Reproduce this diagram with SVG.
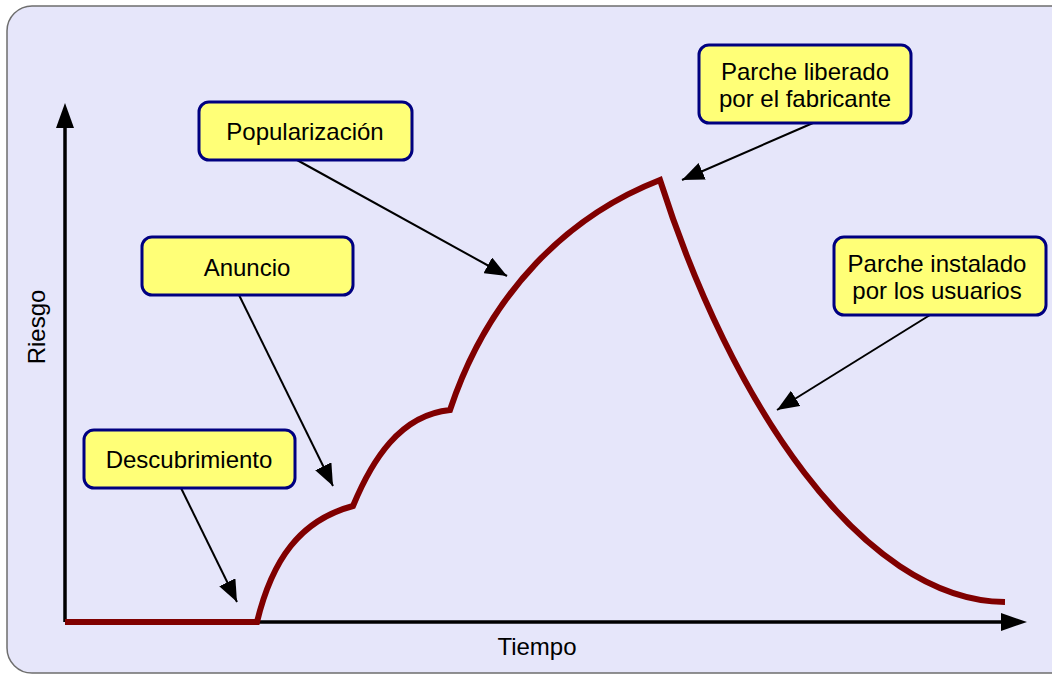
<svg xmlns="http://www.w3.org/2000/svg" width="1052" height="675" viewBox="0 0 1052 675">
<defs>
<style>
.box{fill:#ffff77;stroke:#000080;stroke-width:3}
.t{font-family:"Liberation Sans",Arial,sans-serif;font-size:24px;fill:#000;text-anchor:middle}
.ax{stroke:#000;stroke-width:3.5;fill:none}
.ptr{stroke:#000;stroke-width:2;fill:none}
</style>
<marker id="sm" viewBox="0 0 10 10" refX="10" refY="5" markerWidth="22" markerHeight="18" orient="auto" markerUnits="userSpaceOnUse" preserveAspectRatio="none">
<path d="M0,0 L10,5 L0,10 z" fill="#000"/>
</marker>
</defs>
<rect x="7" y="6" width="1070" height="667" rx="25" ry="25" fill="#e6e6fa" stroke="#6e6e6e" stroke-width="1.5"/>
<g id="axes">
<line class="ax" x1="65" y1="622" x2="65" y2="126"/>
<path d="M65,103 L56,128 L74,128 z" fill="#000"/>
<line class="ax" x1="65" y1="622" x2="1003" y2="622"/>
<path d="M1027,622 L1001,613 L1001,631 z" fill="#000"/>
<text class="t" x="537" y="655">Tiempo</text>
<text class="t" transform="translate(45,327) rotate(-90)">Riesgo</text>
</g>
<g id="curve">
<path d="M65,622 L257,622 C272,560 300,520 353,506 C372,460 400,415 450,410 C490,290 570,215 660,180 C730,400 860,600 1005,602" fill="none" stroke="#800000" stroke-width="6" stroke-linejoin="miter"/>
</g>
<g id="connectors">
<line class="ptr" x1="181" y1="488" x2="237" y2="602" marker-end="url(#sm)"/>
<line class="ptr" x1="239" y1="295" x2="333" y2="486" marker-end="url(#sm)"/>
<line class="ptr" x1="297" y1="160" x2="507" y2="276" marker-end="url(#sm)"/>
<line class="ptr" x1="813" y1="123" x2="682" y2="180" marker-end="url(#sm)"/>
<line class="ptr" x1="930" y1="315" x2="777" y2="410" marker-end="url(#sm)"/>
</g>
<g id="popularizacion">
<rect class="box" x="199" y="102" width="213" height="58" rx="10"/>
<text class="t" x="305" y="140">Popularización</text>
</g>
<g id="anuncio">
<rect class="box" x="142" y="237" width="211" height="58" rx="10"/>
<text class="t" x="247" y="276">Anuncio</text>
</g>
<g id="descubrimiento">
<rect class="box" x="84" y="430" width="211" height="58" rx="10"/>
<text class="t" x="189" y="468">Descubrimiento</text>
</g>
<g id="parche-liberado">
<rect class="box" x="699" y="45" width="212" height="78" rx="10"/>
<text class="t" x="805" y="80">Parche liberado</text>
<text class="t" x="805" y="107">por el fabricante</text>
</g>
<g id="parche-instalado">
<rect class="box" x="834" y="237" width="212" height="78" rx="10"/>
<text class="t" x="937" y="272">Parche instalado</text>
<text class="t" x="937" y="299">por los usuarios</text>
</g>
</svg>
